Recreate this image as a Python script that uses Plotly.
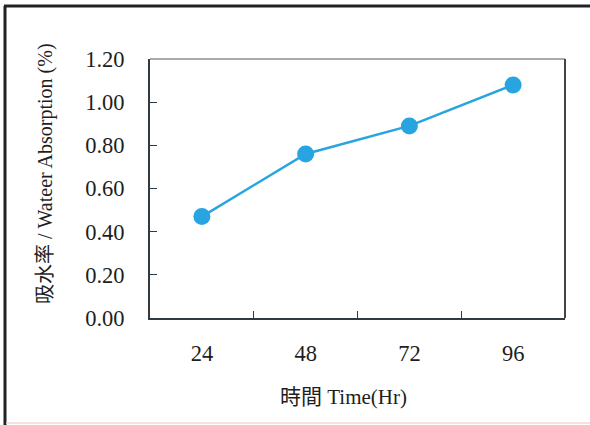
import plotly.graph_objects as go

categories = ["24", "48", "72", "96"]
absorption = [0.47, 0.76, 0.89, 1.08]
y_ticks = [0.0, 0.2, 0.4, 0.6, 0.8, 1.0, 1.2]

W, H = 590, 425
L, R, T, B = 150, 25, 59, 107
pw, ph = W - L - R, H - T - B

def px_x(x):
    return (x - L) / pw

def px_y(y):
    return 1 - (y - T) / ph

fig = go.Figure()
fig.add_trace(go.Scatter(
    x=categories, y=absorption, mode="lines+markers",
    line=dict(color="#28a5e0", width=2.5),
    marker=dict(color="#28a5e0", size=17),
    showlegend=False,
))

axis_font = dict(family="Liberation Serif, Times New Roman, serif", size=22.5, color="#1e1e1e")

fig.update_layout(
    width=W, height=H,
    margin=dict(l=L, r=R, t=T, b=B),
    paper_bgcolor="white", plot_bgcolor="white",
    xaxis=dict(
        type="category", range=[-0.5, 3.5],
        tickson="boundaries", ticks="inside", ticklen=7, tickwidth=1.2, tickcolor="#2e3b45",
        showline=True, linecolor="#2e3b45", linewidth=2, mirror=False,
        showgrid=False, zeroline=False, tickfont=axis_font,
        ticklabelstandoff=14,
    ),
    yaxis=dict(
        range=[0, 1.2], tickvals=y_ticks, tickformat=".2f",
        ticks="inside", ticklen=7, tickwidth=1.2, tickcolor="#2e3b45",
        showline=True, linecolor="#2e3b45", linewidth=2,
        showgrid=False, zeroline=False, tickfont=axis_font,
        ticklabelstandoff=19,
    ),
    shapes=[
        dict(type="line", xref="paper", yref="paper", x0=0, x1=1, y0=1, y1=1,
             line=dict(color="#555555", width=1.2)),
        dict(type="line", xref="paper", yref="paper", x0=1, x1=1, y0=0, y1=1,
             line=dict(color="#444444", width=2)),
        dict(type="line", xref="paper", yref="paper", x0=px_x(5), x1=px_x(5), y0=px_y(6), y1=px_y(425),
             line=dict(color="#1f2326", width=3)),
        dict(type="line", xref="paper", yref="paper", x0=px_x(4), x1=px_x(590), y0=px_y(6), y1=px_y(6),
             line=dict(color="#1f2326", width=3)),
        dict(type="line", xref="paper", yref="paper", x0=px_x(6), x1=px_x(590), y0=px_y(423), y1=px_y(423),
             line=dict(color="#f0d8d0", width=1.5)),
    ],
    annotations=[
        dict(text="時間 Time(Hr)", xref="paper", yref="paper",
             x=px_x(343), y=px_y(397), xanchor="center", yanchor="middle", showarrow=False,
             font=dict(family="Liberation Serif, Noto Sans CJK TC, serif", size=21, color="#1e1e1e")),
        dict(text="吸水率 / Wateer Absorption (%)", xref="paper", yref="paper",
             x=px_x(45), y=px_y(174), xanchor="center", yanchor="middle", showarrow=False,
             textangle=-90,
             font=dict(family="Liberation Serif, Noto Sans CJK TC, serif", size=20, color="#1e1e1e")),
    ],
)

fig.write_html("out.html", config={"displayModeBar": False},
               post_script="document.body.style.margin='0px';")
